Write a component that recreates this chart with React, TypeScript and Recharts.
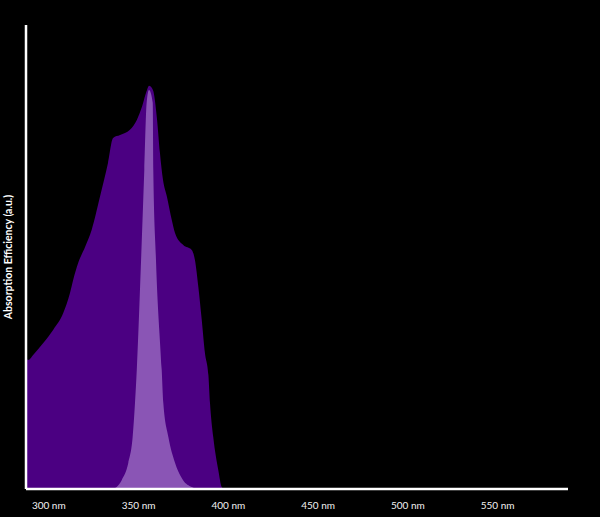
import { AreaChart, Area, XAxis, YAxis } from 'recharts'

// absorption spectrum (dark purple)
const absorbNm = [287.3, 288.6, 291.4, 296.9, 302.5, 308.1, 311.8, 313.6, 316.4, 320.2, 323.9, 328.5, 333.0, 335.8, 339.7, 345.2, 349.1, 351.9, 354.7, 355.8, 358.0, 360.3, 361.9, 363.6, 365.8, 368.5, 370.3, 374.9, 379.6, 381.4, 383.3, 385.2, 387.0, 388.9, 389.8, 391.6, 394.4, 396.3, 397.6]
const absorbVal = [0.325, 0.32, 0.333, 0.362, 0.395, 0.437, 0.486, 0.519, 0.561, 0.6, 0.643, 0.725, 0.809, 0.871, 0.878, 0.891, 0.916, 0.948, 0.99, 1.0, 0.99, 0.916, 0.834, 0.767, 0.725, 0.667, 0.635, 0.605, 0.593, 0.568, 0.501, 0.419, 0.337, 0.283, 0.213, 0.129, 0.047, 0.005, 0]

// UV LED emission peak (light purple)
const ledNm = [335.2, 337.8, 340.6, 344.3, 346.7, 348.0, 349.0, 351.4, 353.2, 354.5, 355.8, 357.9, 358.2, 359.7, 362.9, 363.8, 366.6, 370.3, 374.8, 379.6, 382.0]
const ledVal = [0, 0.005, 0.022, 0.065, 0.129, 0.213, 0.295, 0.568, 0.792, 0.958, 0.99, 0.958, 0.792, 0.568, 0.295, 0.213, 0.129, 0.065, 0.022, 0.005, 0]

const xTicks = [300, 350, 400, 450, 500, 550]

type Row = { nm: number; absorb: number | null; led: number | null }

const rows: Row[] = [
  ...absorbNm.map((nm, i) => ({ nm, absorb: absorbVal[i], led: null })),
  ...ledNm.map((nm, i) => ({ nm, absorb: null, led: ledVal[i] })),
].sort((a, b) => a.nm - b.nm)

const YLabel = (props: any) => {
  const { viewBox } = props
  const cx = viewBox.x - 17
  const cy = viewBox.y + viewBox.height / 2
  return (
    <text
      x={cx}
      y={cy}
      transform={`rotate(-90, ${cx}, ${cy})`}
      textAnchor="middle"
      dominantBaseline="central"
      fill="#ffffff"
      fontSize={10.5}
      fontWeight={700}
      fontFamily="Lato, 'Open Sans', sans-serif"
    >
      Absorption Efficiency (a.u.)
    </text>
  )
}

export default function App() {
  return (
    <div style={{ position: 'absolute', left: 0, top: 0, width: 600, height: 517, background: '#000' }}>
      <AreaChart width={600} height={517} data={rows} margin={{ top: 25, right: 32, bottom: 0, left: 25 }}>
        <XAxis
          dataKey="nm"
          type="number"
          domain={[287.3, 589.2]}
          allowDataOverflow
          ticks={xTicks}
          tickFormatter={(v) => `${v} nm`}
          tickLine={false}
          height={28}
          axisLine={{ stroke: '#ffffff', strokeWidth: 2.5 }}
          tick={{ fill: '#f2f2f2', fontSize: 10, fontFamily: "Lato, 'Open Sans', sans-serif", dy: 5 }}
        />
        <YAxis
          type="number"
          domain={[0, 1.151]}
          allowDataOverflow
          width={1}
          tick={false}
          tickLine={false}
          axisLine={{ stroke: '#ffffff', strokeWidth: 2.5 }}
          label={<YLabel />}
        />
        <Area
          type="monotone"
          dataKey="absorb"
          stroke="none"
          fill="#4b0082"
          fillOpacity={1}
          connectNulls
          dot={false}
          activeDot={false}
          isAnimationActive={false}
        />
        <Area
          type="monotone"
          dataKey="led"
          stroke="none"
          fill="#8a55b5"
          fillOpacity={1}
          connectNulls
          dot={false}
          activeDot={false}
          isAnimationActive={false}
        />
      </AreaChart>
    </div>
  )
}
